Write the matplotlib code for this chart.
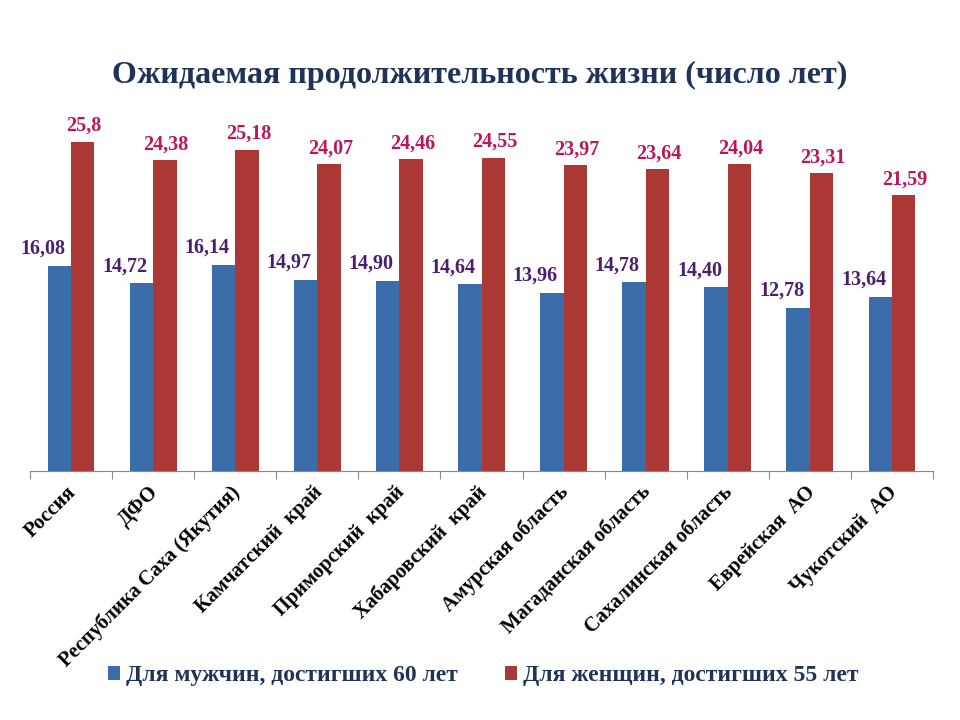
import matplotlib
matplotlib.use("Agg")
import matplotlib.pyplot as plt
import numpy as np

categories = ["Россия", "ДФО", "Республика Саха (Якутия)", "Камчатский  край",
              "Приморский  край", "Хабаровский  край", "Амурская область",
              "Магаданская область", "Сахалинская область", "Еврейская  АО",
              "Чукотский  АО"]
men = [16.08, 14.72, 16.14, 14.97, 14.90, 14.64, 13.96, 14.78, 14.40, 12.78, 13.64]
women = [25.8, 24.38, 25.18, 24.07, 24.46, 24.55, 23.97, 23.64, 24.04, 23.31, 21.59]
men_labels = ["16,08", "14,72", "16,14", "14,97", "14,90", "14,64", "13,96", "14,78", "14,40", "12,78", "13,64"]
women_labels = ["25,8", "24,38", "25,18", "24,07", "24,46", "24,55", "23,97", "23,64", "24,04", "23,31", "21,59"]
series_names = ["Для мужчин, достигших 60 лет", "Для женщин, достигших 55 лет"]
title = "Ожидаемая продолжительность жизни (число лет)"

plt.rcParams['font.family'] = ['Liberation Serif', 'DejaVu Serif']
plt.rcParams['font.weight'] = 'bold'

blue = "#3A6DAA"
red = "#AC3835"
purple = "#4A1F6E"
crimson = "#C0135A"
navy = "#1F3358"

fig = plt.figure(figsize=(9.6, 7.2), dpi=100)
ax = fig.add_axes([30/960, 1-471/720, 903/960, (471-88)/720])

x = np.arange(len(categories))
w = 0.285
b1 = ax.bar(x - w/2, men, width=w, color=blue, label=series_names[0])
b2 = ax.bar(x + w/2, women, width=w, color=red, label=series_names[1])

for xi, v, t in zip(x, men, men_labels):
    ax.annotate(t, (xi - w/2, v), xytext=(-12, 5), textcoords="offset points",
                ha="center", va="bottom", color=purple, fontsize=14.5, fontweight="bold")
for xi, v, t in zip(x, women, women_labels):
    ax.annotate(t, (xi + w/2, v), xytext=(1, 4), textcoords="offset points",
                ha="center", va="bottom", color=crimson, fontsize=14.5, fontweight="bold")

ax.set_xlim(-0.5, len(categories) - 0.5)
ax.set_ylim(0, 30)
ax.set_yticks([])
for s in ["top", "right", "left"]:
    ax.spines[s].set_visible(False)
ax.spines["bottom"].set_color("#888888")
ax.set_xticks(np.arange(-0.5, len(categories)), minor=False)
ax.set_xticklabels([])
ax.tick_params(axis="x", which="major", length=6, color="#888888", direction="out")
ax.set_xticks(x - 0.06, minor=True)
ax.set_xticklabels(categories, minor=True, rotation=45, ha="right", rotation_mode="anchor",
                   fontsize=14.8, fontweight="bold")
ax.tick_params(axis="x", which="minor", length=0, pad=8)

fig.text(480/960, 1-75/720, title, ha="center", va="center", fontsize=23,
         fontweight="bold", color="#1F3358")

leg = fig.legend(handles=[b1, b2], labels=series_names, loc="center",
                 bbox_to_anchor=(483/960, 1-676/720), ncol=2, frameon=False,
                 fontsize=17, handlelength=0.5, handleheight=0.5, handletextpad=0.25,
                 columnspacing=2.0)
for t in leg.get_texts():
    t.set_color(navy)
    t.set_fontweight("bold")

fig.savefig("out.png", dpi=100, facecolor="white")
